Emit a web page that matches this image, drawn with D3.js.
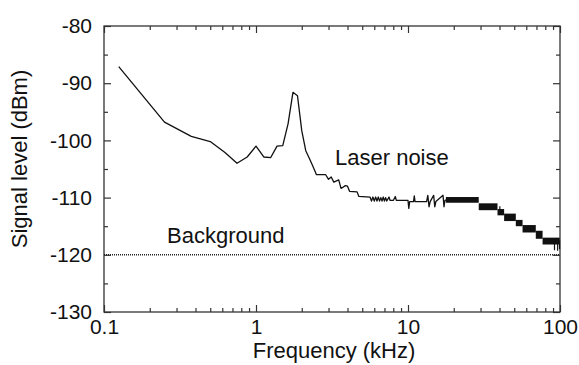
<!DOCTYPE html>
<html>
<head>
<meta charset="utf-8">
<script src="https://cdn.jsdelivr.net/npm/d3@7"></script>
<style>
  html, body { margin: 0; padding: 0; background: #fff; }
  svg { display: block; font-family: "Liberation Sans", Arial, Helvetica, sans-serif; }
</style>
</head>
<body>
<svg id="chart" width="579" height="365"></svg>
<script>
// ---- data ----
const traceFreq = [0.125, 0.25, 0.375, 0.5, 0.625, 0.75, 0.875, 1.0, 1.125, 1.25, 1.375, 1.5, 1.625, 1.75, 1.875, 2.0, 2.125, 2.25, 2.375, 2.5, 2.875, 3.0, 3.125, 3.25, 3.5, 3.625, 3.875, 4.0, 4.125, 4.625, 4.75, 5.625, 5.75, 5.875, 6.0, 6.125, 6.25, 6.375, 6.5, 6.625, 6.75, 6.875, 7.0, 7.125, 7.25, 7.5, 7.625, 8.0, 8.25, 8.375, 10.0, 10.125, 10.25, 10.875, 11.0, 11.125, 13.25, 13.5, 13.75, 14.0, 14.75, 15.0, 15.25, 17.0, 17.25, 17.5, 18.0];
const traceLevel = [-87.1, -96.8, -99.3, -100.2, -102.1, -104.0, -102.9, -101.0, -102.9, -103.0, -101.0, -100.9, -97.1, -91.6, -92.2, -98.3, -101.8, -103.2, -104.6, -106.0, -106.0, -106.8, -106.4, -107.3, -106.9, -108.4, -107.9, -108.0, -108.9, -109.0, -109.8, -109.9, -110.6, -109.9, -110.6, -109.9, -110.6, -109.9, -110.6, -110.0, -110.6, -109.9, -110.6, -110.0, -110.6, -109.9, -110.5, -110.5, -109.8, -110.5, -110.5, -111.9, -110.7, -110.7, -109.7, -110.7, -110.7, -109.6, -111.6, -110.7, -109.6, -111.6, -110.7, -109.6, -111.6, -110.5, -110.4];

// dense (unresolved) parts of the trace: frequency span and level span
const bandStart = [17.75, 29.2, 38.8, 42.9, 51.2, 56.7, 69.3, 76.8];
const bandEnd   = [29.2, 38.8, 42.9, 51.2, 56.7, 69.3, 76.8, 99.6];
const bandTop   = [-109.9, -111.0, -112.0, -112.8, -113.9, -114.8, -115.8, -117.0];
const bandBot   = [-110.9, -112.2, -113.1, -114.1, -115.0, -116.1, -117.2, -118.2];

// isolated spikes in the dense part
const spikeFreq = [40.2, 92.0, 96.5, 99.3];
const spikeFrom = [-111.5, -118.0, -118.0, -117.5];
const spikeTo   = [-112.8, -119.2, -119.3, -119.0];

// background level
const bgFreq  = [0.1, 100];
const bgLevel = [-120, -120];

const xMajor = [0.1, 1, 10, 100];
const xMajorLabels = ["0.1", "1", "10", "100"];
const xMinor = [0.2,0.3,0.4,0.5,0.6,0.7,0.8,0.9, 2,3,4,5,6,7,8,9, 20,30,40,50,60,70,80,90];
const yMajor = [-80, -90, -100, -110, -120, -130];
const yMinor = [-85, -95, -105, -115, -125];

const xTitle = "Frequency (kHz)";
const yTitle = "Signal level (dBm)";
const labelLaser = "Laser noise";
const labelBg = "Background";

// ---- layout ----
const L = 104, R = 560, T = 26, B = 312;
const svg = d3.select("#chart");
const x = d3.scaleLog().domain([0.1, 100]).range([L, R]);
const y = d3.scaleLinear().domain([-130, -80]).range([B, T]);

const frameColor = "#333";
const inkColor = "#111";

// axes (ticks inward on all four sides)
function styleAxis(g) {
  g.selectAll(".domain").remove();
  g.selectAll(".tick line").attr("stroke", frameColor).attr("stroke-width", 1.2);
}
const fmtX = (d) => xMajorLabels[xMajor.indexOf(d)];

svg.append("g").attr("transform", `translate(0,${B})`)
  .call(d3.axisBottom(x).tickValues(xMajor).tickSize(-7).tickFormat(fmtX).tickPadding(7))
  .call(styleAxis)
  .call(g => g.selectAll("text").attr("font-size", 21).attr("fill", inkColor)
    .attr("font-family", '"Liberation Sans", Arial, sans-serif'));
svg.append("g").attr("transform", `translate(0,${B})`)
  .call(d3.axisBottom(x).tickValues(xMinor).tickSize(-4).tickFormat(""))
  .call(styleAxis);
svg.append("g").attr("transform", `translate(0,${T})`)
  .call(d3.axisTop(x).tickValues(xMajor).tickSize(-7).tickFormat(""))
  .call(styleAxis);
svg.append("g").attr("transform", `translate(0,${T})`)
  .call(d3.axisTop(x).tickValues(xMinor).tickSize(-4).tickFormat(""))
  .call(styleAxis);

svg.append("g").attr("transform", `translate(${L},0)`)
  .call(d3.axisLeft(y).tickValues(yMajor).tickSize(-7).tickFormat(d3.format("d")).tickPadding(12))
  .call(styleAxis)
  .call(g => g.selectAll("text").attr("font-size", 21).attr("fill", inkColor)
    .attr("font-family", '"Liberation Sans", Arial, sans-serif'));
svg.append("g").attr("transform", `translate(${L},0)`)
  .call(d3.axisLeft(y).tickValues(yMinor).tickSize(-4).tickFormat(""))
  .call(styleAxis);
svg.append("g").attr("transform", `translate(${R},0)`)
  .call(d3.axisRight(y).tickValues(yMajor).tickSize(-7).tickFormat(""))
  .call(styleAxis);
svg.append("g").attr("transform", `translate(${R},0)`)
  .call(d3.axisRight(y).tickValues(yMinor).tickSize(-4).tickFormat(""))
  .call(styleAxis);

// replace the d3 minus sign with a hyphen like the reference
svg.selectAll(".tick text").each(function() {
  const t = d3.select(this); t.text(t.text().replace("\u2212", "-"));
});

// frame
svg.append("rect").attr("x", L).attr("y", T).attr("width", R - L).attr("height", B - T)
  .attr("fill", "none").attr("stroke", frameColor).attr("stroke-width", 1.3);

// background dotted line
const bgData = bgFreq.map((f, i) => [f, bgLevel[i]]);
svg.append("path").datum(bgData)
  .attr("d", d3.line().x(d => x(d[0])).y(d => y(d[1])))
  .attr("fill", "none").attr("stroke", "#222").attr("stroke-width", 1.4)
  .attr("stroke-dasharray", "1,1");

// laser noise trace
const traceData = traceFreq.map((f, i) => [f, traceLevel[i]]);
svg.append("path").datum(traceData)
  .attr("d", d3.line().x(d => x(d[0])).y(d => y(d[1])))
  .attr("fill", "none").attr("stroke", inkColor).attr("stroke-width", 1.3)
  .attr("stroke-linejoin", "round");

const bandData = bandStart.map((f, i) => ({ f0: f, f1: bandEnd[i], top: bandTop[i], bot: bandBot[i] }));
svg.append("g").selectAll("rect").data(bandData).join("rect")
  .attr("x", d => x(d.f0)).attr("width", d => x(d.f1) - x(d.f0))
  .attr("y", d => y(d.top)).attr("height", d => y(d.bot) - y(d.top))
  .attr("fill", inkColor);

const spikeData = spikeFreq.map((f, i) => ({ f, a: spikeFrom[i], b: spikeTo[i] }));
svg.append("g").selectAll("line").data(spikeData).join("line")
  .attr("x1", d => x(d.f)).attr("x2", d => x(d.f))
  .attr("y1", d => y(d.a)).attr("y2", d => y(d.b))
  .attr("stroke", inkColor).attr("stroke-width", 1.2);

// annotations
svg.append("text").attr("x", 335).attr("y", 165).attr("font-size", 22).attr("fill", inkColor)
  .text(labelLaser);
svg.append("text").attr("x", 167).attr("y", 243).attr("font-size", 22).attr("fill", inkColor)
  .text(labelBg);

// axis titles
svg.append("text").attr("x", (L + R) / 2 + 2).attr("y", 358).attr("text-anchor", "middle")
  .attr("font-size", 22).attr("fill", inkColor).text(xTitle);
svg.append("text").attr("transform", `translate(27,${159}) rotate(-90)`).attr("text-anchor", "middle")
  .attr("font-size", 22).attr("fill", inkColor).text(yTitle);
</script>
</body>
</html>
